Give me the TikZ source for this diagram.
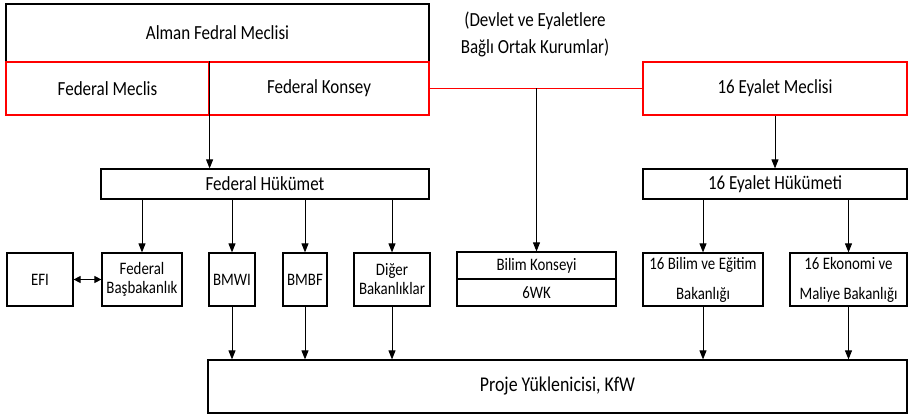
\documentclass[tikz,border=0pt]{standalone}
\usepackage{fontspec}
\setmainfont{Carlito}[FakeStretch=0.85]
\usetikzlibrary{arrows.meta}

\begin{document}
\begin{tikzpicture}[
  x=1pt, y=-1pt,
  every node/.style={draw, rectangle, inner sep=0pt, line width=1.2pt, font=\fontsize{20}{24}\selectfont},
  big/.style={minimum height=53pt},
  thin/.style={minimum height=30pt},
  small/.style={minimum height=53pt, align=center, font=\fontsize{17.5}{19}\selectfont},
  wide/.style={small, font=\fontsize{17.5}{30}\selectfont},
  half/.style={minimum height=27pt, minimum width=159pt, font=\fontsize{17.5}{19}\selectfont},
  redbox/.style={draw=red},
  arr/.style={-{Triangle[length=9pt,width=7pt]}, line width=0.9pt},
  dbl/.style={{Triangle[length=7pt,width=7pt]}-{Triangle[length=7pt,width=7pt]}, line width=0.9pt}
]
\useasboundingbox (0,0) rectangle (908,414);

\node[minimum height=58pt, minimum width=423pt] (alman) at (217.5,33) {Alman Fedral Meclisi};
\node[big, redbox, minimum width=203pt] (fmeclis) at (107.5,88.5) {Federal Meclis};
\node[big, redbox, minimum width=220pt] (fkonsey) at (319,88.5) {Federal Konsey};
\node[draw=none, align=center, font=\fontsize{20}{27}\selectfont] (kurumlar) at (535,34)
  {(Devlet ve Eyaletlere\\Bağlı Ortak Kurumlar)};
\node[big, redbox, minimum width=264pt] (emeclis) at (775,88.5) {16 Eyalet Meclisi};

\node[thin, minimum width=328pt] (fhuk) at (265,184) {Federal Hükümet};
\node[thin, minimum width=264pt] (ehuk) at (775,184) {16 Eyalet Hükümeti};

\node[small, minimum width=66pt] (efi) at (40,279.5) {EFI};
\node[small, minimum width=80pt] (bsb) at (142,279.5) {Federal\\Başbakanlık};
\node[small, minimum width=46pt] (bmwi) at (232,279.5) {BMWI};
\node[small, minimum width=44pt] (bmbf) at (305,279.5) {BMBF};
\node[small, minimum width=76pt] (diger) at (392,279.5) {Diğer\\Bakanlıklar};
\node[half] (bilim) at (536.5,265.5) {Bilim Konseyi};
\node[half] (gwk) at (536.5,292.5) {6WK};
\node[wide, minimum width=120pt] (ebm) at (703,279.5) {16 Bilim ve Eğitim\\Bakanlığı};
\node[wide, minimum width=117pt] (emb) at (848.5,279.5) {16 Ekonomi ve\\Maliye Bakanlığı};

\node[big, minimum width=699pt, font=\fontsize{21}{24}\selectfont] (proje) at (557.5,386.5) {Proje Yüklenicisi, KfW};

\draw[red, line width=0.8pt] (fkonsey.east) -- (emeclis.west);
\coordinate (ortak) at (fkonsey.east -| bilim.north);
\draw[arr] (ortak) -- (bilim.north);
\draw[arr] (fmeclis.north east) -- (fhuk.north -| fmeclis.north east);
\draw[arr] (emeclis) -- (ehuk);
\foreach \n in {bsb,bmwi,bmbf,diger}
  \draw[arr] (fhuk.south -| \n.north) -- (\n.north);
\foreach \n in {ebm,emb}
  \draw[arr] (ehuk.south -| \n.north) -- (\n.north);
\foreach \n in {bmwi,bmbf,diger,ebm,emb}
  \draw[arr] (\n.south) -- (proje.north -| \n.south);
\draw[dbl] (efi) -- (bsb);
\end{tikzpicture}
\end{document}
